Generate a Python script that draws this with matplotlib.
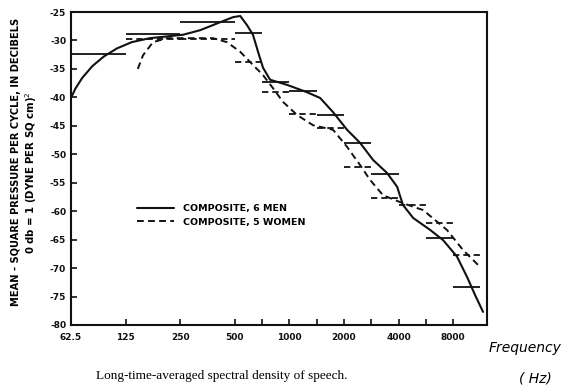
import matplotlib
matplotlib.use("Agg")
import matplotlib.pyplot as plt
from matplotlib.ticker import FixedLocator, NullFormatter

# ---- data ----
men_f = [62.5, 66, 72, 82, 95, 112, 135, 170, 210, 259, 322, 415, 490, 536, 584, 630, 672,
         716, 783, 971, 1252, 1477, 1742, 2081, 2455, 2896, 3460, 3928, 4230, 4820,
         5980, 7050, 8410, 9560, 10560, 11700]
men_db = [-40.1, -38.5, -36.6, -34.5, -32.8, -31.4, -30.3, -29.6, -29.3, -29.0, -28.2, -26.8,
          -25.9, -25.7, -27.3, -29.0, -32.0, -34.8, -36.9, -37.8, -39.1, -40.1, -42.6, -45.7,
          -48.0, -51.0, -53.3, -55.7, -58.9, -61.2, -63.3, -65.1, -68.0, -71.6, -74.7, -77.7]

women_f = [146, 156, 177, 212, 294, 379, 453, 536, 630, 716, 813, 923, 1103, 1352, 1742,
           2081, 2455, 2786, 3285, 4230, 5460, 7400, 9060, 11270]
women_db = [-35.0, -32.6, -30.3, -29.6, -29.6, -29.6, -30.3, -32.0, -34.3, -36.1, -38.4,
            -40.8, -43.1, -44.9, -45.7, -48.7, -51.9, -54.5, -57.2, -58.6, -59.8, -63.3,
            -66.8, -69.8]

band_lo = [62.5, 125, 250, 500, 707, 1000, 1414, 2000, 2828, 4000, 5657, 8000]
band_hi = [125, 250, 500, 707, 1000, 1414, 2000, 2828, 4000, 5657, 8000, 11314]
men_band_db = [-32.4, -28.9, -26.8, -28.7, -37.3, -38.9, -43.1, -48.0, -53.5, None, -64.7, -73.3]
women_band_db = [None, -29.7, -29.7, -33.8, -39.0, -42.9, -45.4, -52.2, -57.7, -58.9, -62.1, -67.7]

x_major = [62.5, 125, 250, 500, 1000, 2000, 4000, 8000]
x_labels = ["62.5", "125", "250", "500", "1000", "2000", "4000", "8000"]
x_minor = [707, 1414, 2828, 5657]
y_ticks = [-25, -30, -35, -40, -45, -50, -55, -60, -65, -70, -75, -80]

# ---- figure ----
fig = plt.figure(figsize=(5.65, 3.91), dpi=100)
ax = fig.add_axes([71/565, 1-325/391, (487-71)/565, (325-12)/391])
ax.set_xscale("log", base=2)
ax.set_xlim(62.5, 12300)
ax.set_ylim(-80, -25)

ax.plot(men_f, men_db, color="#111111", lw=1.5, solid_capstyle="round")
ax.plot(women_f, women_db, color="#111111", lw=1.4, ls=(0, (3.5, 2.2)))

for lo, hi, v in zip(band_lo, band_hi, men_band_db):
    if v is not None:
        ax.hlines(v, lo, hi, color="#111111", lw=1.3)
for lo, hi, v in zip(band_lo, band_hi, women_band_db):
    if v is not None:
        ax.hlines(v, lo, hi, color="#111111", lw=1.3, linestyles=(0, (3.5, 2.2)))

ax.xaxis.set_major_locator(FixedLocator(x_major))
ax.set_xticklabels(x_labels)
ax.xaxis.set_minor_locator(FixedLocator(x_minor))
ax.xaxis.set_minor_formatter(NullFormatter())
ax.set_yticks(y_ticks)
ax.set_yticklabels([str(t) for t in y_ticks])

ax.tick_params(axis="both", which="both", direction="in", length=4, width=1.2,
               labelsize=6.5, colors="#111111")
ax.tick_params(axis="x", pad=6)
for lab in ax.get_xticklabels() + ax.get_yticklabels():
    lab.set_fontweight("bold")
for s in ax.spines.values():
    s.set_linewidth(1.5)
    s.set_color("#111111")

# legend
leg = ax.legend(["COMPOSITE, 6 MEN", "COMPOSITE, 5 WOMEN"], loc="upper left",
                bbox_to_anchor=((128-71)/416, 1-(196-12)/313), frameon=False,
                handlelength=4.0, handletextpad=0.9, labelspacing=0.45,
                prop={"size": 6.8, "weight": "bold"})

# y label (two lines)
fig.text(16/565, 1-162/391, "MEAN - SQUARE PRESSURE PER CYCLE, IN DECIBELS",
         rotation=90, ha="center", va="center", fontsize=7.1, fontweight="bold")
fig.text(31/565, 1-173/391, "0 db = 1 (DYNE PER SQ cm)$^2$",
         rotation=90, ha="center", va="center", fontsize=7.3, fontweight="bold")

# caption
fig.text(222/565, 1-376/391, "Long-time-averaged spectral density of speech.",
         ha="center", va="center", fontsize=9.5, family="Liberation Serif")
fig.text(525/565, 1-348/391, "Frequency", ha="center", va="center",
         fontsize=10, style="italic")
fig.text(535/565, 1-379/391, "( Hz)", ha="center", va="center",
         fontsize=10, style="italic")

fig.savefig("out.png", dpi=100)
